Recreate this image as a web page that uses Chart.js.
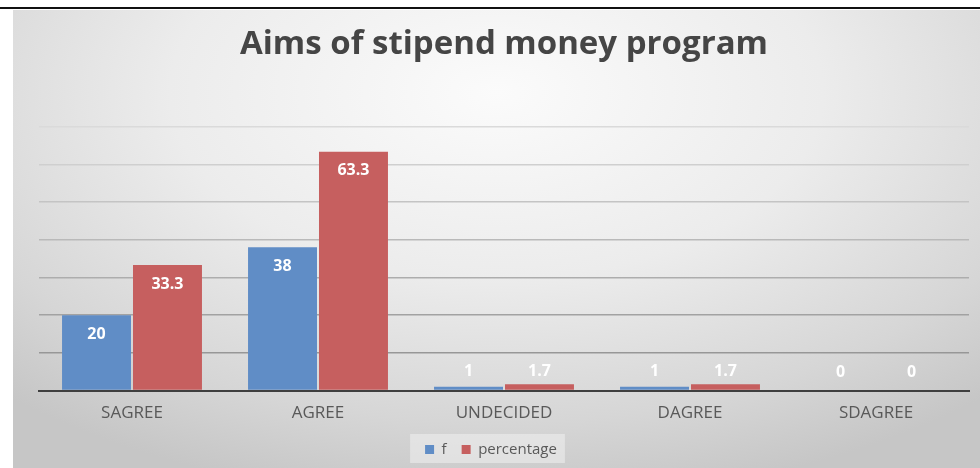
<!DOCTYPE html>
<html>
<head>
<meta charset="utf-8">
<script src="https://cdn.jsdelivr.net/npm/chart.js@4.4.0/dist/chart.umd.min.js"></script>
<style>
  html, body { margin: 0; padding: 0; background: #fff; width: 980px; height: 468px; overflow: hidden; }
  #topLine { position: absolute; left: 0; top: 7px; width: 980px; height: 2px; background: #111; }
  #box {
    position: absolute; left: 13px; top: 10px; width: 967px; height: 458px;
    background: radial-gradient(ellipse 75% 90% at 50% 18%, #fbfbfb 0%, #ececec 45%, #d6d6d6 80%, #c6c6c6 100%);
  }
  canvas { display: block; }
</style>
</head>
<body>
<div id="topLine"></div>
<div id="box"><canvas id="chart" width="967" height="458"></canvas></div>
<script>
const categories = ['SAGREE', 'AGREE', 'UNDECIDED', 'DAGREE', 'SDAGREE'];
const fValues = [20, 38, 1, 1, 0];
const percentageValues = [33.3, 63.3, 1.7, 1.7, 0];
const yMax = 70;
const yStep = 10;

// etiquetas blancas dentro del extremo de cada barra
const valueLabels = {
  id: 'valueLabels',
  afterDatasetsDraw(chart) {
    const ctx = chart.ctx;
    ctx.save();
    ctx.font = 'bold 16px "Open Sans"';
    ctx.fillStyle = '#ffffff';
    ctx.textAlign = 'center';
    ctx.textBaseline = 'middle';
    chart.data.datasets.forEach((ds, i) => {
      chart.getDatasetMeta(i).data.forEach((bar, j) => {
        const y = Math.min(bar.y + 19, bar.base - 18);
        ctx.fillText(String(ds.data[j]), bar.x, y);
      });
    });
    ctx.restore();
  }
};

// leyenda un poco a la izquierda y con fondo claro
const legendBg = {
  id: 'legendBg',
  afterLayout(chart) {
    chart.legend.left -= 13;
    chart.legend.right -= 13;
  },
  beforeDraw(chart) {
    const lg = chart.legend;
    if (!lg || !lg.legendHitBoxes.length) return;
    const boxes = lg.legendHitBoxes;
    const left = Math.min(...boxes.map(b => b.left)) - 15;
    const right = Math.max(...boxes.map(b => b.left + b.width)) + 8;
    const top = boxes[0].top - 8;
    const bottom = boxes[0].top + boxes[0].height + 6;
    const ctx = chart.ctx;
    ctx.save();
    ctx.fillStyle = 'rgba(240,240,240,0.55)';
    ctx.fillRect(left, top, right - left, bottom - top);
    ctx.restore();
  }
};

const ctx = document.getElementById('chart').getContext('2d');
new Chart(ctx, {
  type: 'bar',
  data: {
    labels: categories,
    datasets: [
      { label: 'f', data: fValues, backgroundColor: '#608dc6', borderWidth: 0 },
      { label: 'percentage', data: percentageValues, backgroundColor: '#c65f5f', borderWidth: 0 }
    ]
  },
  options: {
    responsive: false,
    animation: false,
    devicePixelRatio: 1,
    categoryPercentage: 0.763,
    barPercentage: 0.972,
    layout: { padding: { left: 26, right: 11, top: 0, bottom: 1 } },
    plugins: {
      title: {
        display: true,
        text: 'Aims of stipend money program',
        color: '#454545',
        font: { family: '"Open Sans"', size: 33, weight: 'bold' },
        padding: { top: 15, bottom: 62 }
      },
      legend: {
        position: 'bottom',
        labels: {
          color: '#595959',
          font: { family: '"Open Sans"', size: 15 },
          boxWidth: 9,
          boxHeight: 9,
          padding: 15
        }
      },
      tooltip: { enabled: false }
    },
    scales: {
      x: {
        grid: { display: false },
        border: { display: true, color: '#3f3f3f', width: 2 },
        ticks: { color: '#595959', font: { family: '"Open Sans"', size: 17 }, padding: 4 }
      },
      y: {
        min: 0,
        max: yMax,
        ticks: { display: false, stepSize: yStep },
        border: { display: false },
        grid: {
          drawTicks: false,
          lineWidth: 1.5,
          color: c => {
            const g = Math.round(140 + (c.tick.value / yMax) * 78);
            return `rgb(${g},${g},${g})`;
          }
        }
      }
    }
  },
  plugins: [legendBg, valueLabels]
});
</script>
</body>
</html>
